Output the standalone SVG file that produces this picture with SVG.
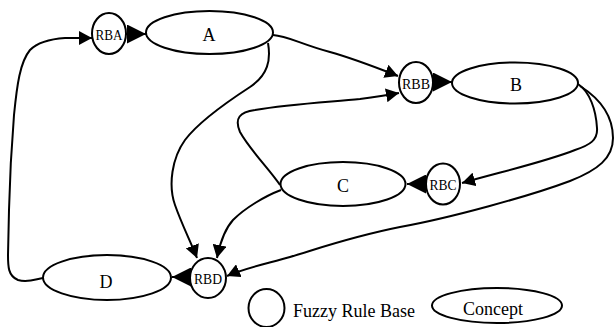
<svg xmlns="http://www.w3.org/2000/svg" width="615" height="327" viewBox="0 0 615 327">
  <style>
    .node { fill: #fff; stroke: #000; stroke-width: 2; }
    .edge { fill: none; stroke: #000; stroke-width: 2; }
    .lbl { font-family: "Liberation Serif", "Times New Roman", serif; font-size: 18px; fill: #000; text-anchor: middle; }
    .rb { font-family: "Liberation Serif", "Times New Roman", serif; font-size: 15px; fill: #000; text-anchor: middle; }
    .leg { font-family: "Liberation Serif", "Times New Roman", serif; font-size: 18px; fill: #000; }
  </style>
  <defs>
    <marker id="tip" markerUnits="userSpaceOnUse" markerWidth="14" markerHeight="14" refX="13" refY="7" orient="auto">
      <path d="M0,0 L13,7 L0,14 z" fill="#000"/>
    </marker>
    <marker id="tipBig" markerUnits="userSpaceOnUse" markerWidth="20" markerHeight="19" refX="19" refY="9.5" orient="auto">
      <path d="M0,0 L19,9.5 L0,19 z" fill="#000"/>
    </marker>
  </defs>

  <!-- connectors -->
  <g id="connectors">
    <!-- D feeds back to RBA -->
    <path class="edge" marker-end="url(#tip)" d="M43,278 C36,279 28,283 18,280 C8,276 8,266 8,255 L9,210 C10,170 12,140 14,115 C17,85 20,62 30,50 C38,42 50,39 65,38 L92,38"/>
    <!-- A to RBB -->
    <path class="edge" marker-end="url(#tip)" d="M273,35 C288,36 300,44 330,52 C355,59 375,67 398,76"/>
    <!-- C loops up to RBB -->
    <path class="edge" marker-end="url(#tip)" d="M280,185 C270,170 250,150 240,132 C234,118 240,112 255,110 C290,104 330,102 360,99 C375,97 388,95 399,93"/>
    <!-- B to RBC -->
    <path class="edge" marker-end="url(#tip)" d="M578,84 C590,92 596,110 597,128 C598,140 590,145 575,150 C545,162 500,172 462,183"/>
    <!-- B to RBD -->
    <path class="edge" marker-end="url(#tip)" d="M580,86 C602,100 613,118 613,138 C613,158 598,170 570,181 C530,196 450,218 400,227 C350,237 320,248 290,257 C265,264 245,268 227,276"/>
    <!-- A to RBD -->
    <path class="edge" marker-end="url(#tip)" d="M268,43 C271,60 268,75 250,87 C230,100 200,120 185,140 C172,158 168,185 175,205 C182,225 190,240 197,258"/>
    <!-- C to RBD -->
    <path class="edge" marker-end="url(#tip)" d="M281,190 C265,196 245,208 233,220 C224,230 220,243 217,258"/>
    <!-- rule bases into their concepts -->
    <path class="edge" marker-end="url(#tipBig)" d="M126,34 L146,34"/>
    <path class="edge" marker-end="url(#tipBig)" d="M433,82 L452,82"/>
    <path class="edge" marker-end="url(#tipBig)" d="M426,184 L407,184"/>
    <path class="edge" marker-end="url(#tipBig)" d="M190,277 L172,277"/>
  </g>

  <!-- concepts -->
  <g id="A">
    <ellipse class="node" cx="209.5" cy="32.5" rx="63.5" ry="21.5"/>
    <text class="lbl" x="209" y="41">A</text>
  </g>
  <g id="B">
    <ellipse class="node" cx="515" cy="83" rx="63" ry="20.5"/>
    <text class="lbl" x="516" y="91">B</text>
  </g>
  <g id="C">
    <ellipse class="node" cx="343" cy="184" rx="62.5" ry="22"/>
    <text class="lbl" x="343" y="192">C</text>
  </g>
  <g id="D">
    <ellipse class="node" cx="107" cy="277.5" rx="64" ry="22.5"/>
    <text class="lbl" x="106" y="288">D</text>
  </g>

  <!-- fuzzy rule bases -->
  <g id="RBA">
    <ellipse class="node" cx="109" cy="33.5" rx="17" ry="20.5"/>
    <text class="rb" x="109" y="39.5" textLength="27" lengthAdjust="spacingAndGlyphs">RBA</text>
  </g>
  <g id="RBB">
    <ellipse class="node" cx="416" cy="82.5" rx="17" ry="20.5"/>
    <text class="rb" x="416" y="88.5" textLength="28" lengthAdjust="spacingAndGlyphs">RBB</text>
  </g>
  <g id="RBC">
    <ellipse class="node" cx="443" cy="184" rx="17" ry="20.5"/>
    <text class="rb" x="443" y="190" textLength="27" lengthAdjust="spacingAndGlyphs">RBC</text>
  </g>
  <g id="RBD">
    <ellipse class="node" cx="208" cy="278" rx="18" ry="20"/>
    <text class="rb" x="208" y="284" textLength="28" lengthAdjust="spacingAndGlyphs">RBD</text>
  </g>

  <!-- legend -->
  <g id="legend-rule-base">
    <ellipse class="node" cx="266.5" cy="308" rx="18" ry="19"/>
    <text class="leg" x="293" y="317">Fuzzy Rule Base</text>
  </g>
  <g id="legend-concept">
    <ellipse class="node" cx="497" cy="305.5" rx="65" ry="17.5"/>
    <text class="lbl" x="493" y="315">Concept</text>
  </g>
</svg>
